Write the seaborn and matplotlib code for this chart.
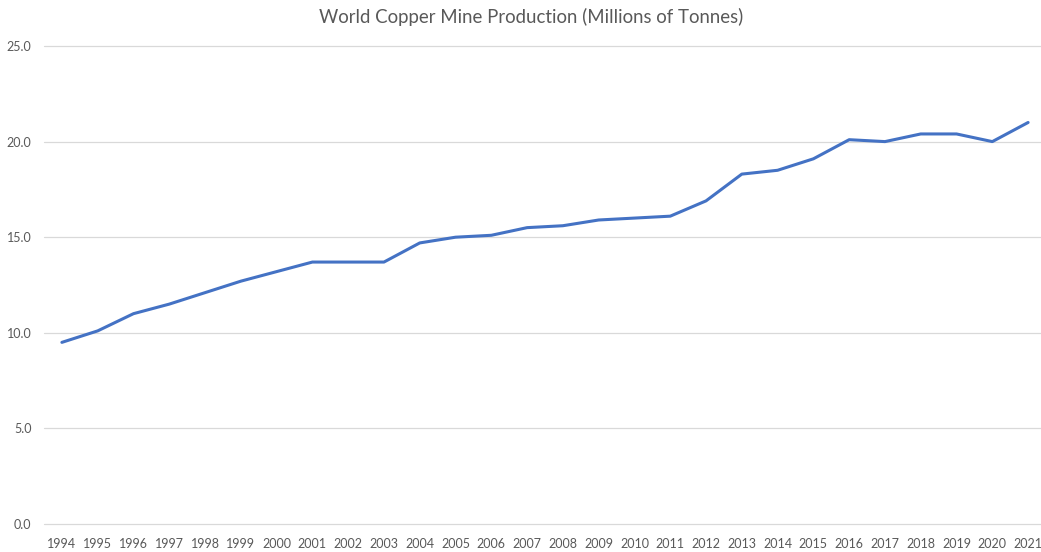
import matplotlib
matplotlib.use("Agg")
import matplotlib.pyplot as plt
import pandas as pd
import seaborn as sns

# World copper mine production, millions of tonnes
years = list(range(1994, 2022))
production = [9.5, 10.1, 11.0, 11.5, 12.1, 12.7, 13.2, 13.7, 13.7, 13.7,
              14.7, 15.0, 15.1, 15.5, 15.6, 15.9, 16.0, 16.1, 16.9, 18.3,
              18.5, 19.1, 20.1, 20.0, 20.4, 20.4, 20.0, 21.0]
y_ticks = [0, 5, 10, 15, 20, 25]
title = "World Copper Mine Production (Millions of Tonnes)"

df = pd.DataFrame({"Year": years, "Production": production})

sns.set_theme(style="white")
plt.rcParams["font.family"] = ["Lato", "DejaVu Sans"]

W, H = 1041, 552
fig = plt.figure(figsize=(W / 100, H / 100), dpi=100)
left, right, top, bottom = 44, 1046, 46, 524
ax = fig.add_axes([left / W, (H - bottom) / H, (right - left) / W, (bottom - top) / H])

sns.lineplot(data=df, x="Year", y="Production", ax=ax,
             color="#4472C4", linewidth=2.2, solid_joinstyle="round")

ax.set_xlim(years[0] - 0.5, years[-1] + 0.5)
ax.set_ylim(0, 25)
ax.set_xticks(years)
ax.set_xticklabels([str(y) for y in years])
ax.set_yticks(y_ticks)
ax.set_yticklabels([f"{v:.1f}" for v in y_ticks])

ax.grid(axis="y", color="#d9d9d9", linewidth=0.9)
for gl in ax.get_ygridlines():
    gl.set_clip_on(False)
ax.set_axisbelow(True)
for s in ax.spines.values():
    s.set_visible(False)
ax.tick_params(axis="both", length=0, labelsize=9, colors="#595959")
ax.tick_params(axis="y", pad=9)
ax.tick_params(axis="x", pad=10)
ax.set_xlabel("")
ax.set_ylabel("")

fig.text(531 / W, 1 - 17 / H, title, ha="center", va="center",
         fontsize=13.4, color="#595959")

fig.savefig("out.png", dpi=100, facecolor="white")
